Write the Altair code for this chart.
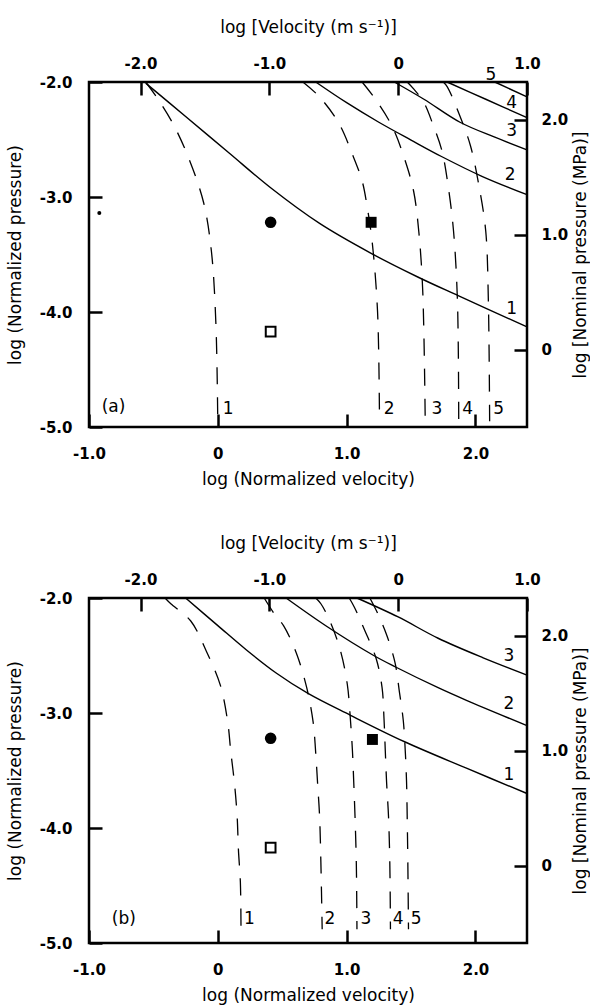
import altair as alt
import pandas as pd

# ---------------- axes ----------------
X_DOMAIN = [-1.0, 2.4]          # log (Normalized velocity)
Y_DOMAIN = [-5.0, -2.0]         # log (Normalized pressure)
VEL_OFFSET = 1.4                # log normalized velocity - log velocity
MPA_OFFSET = 4.33               # log nominal pressure - log normalized pressure
X_TICKS = [-1.0, 0.0, 1.0, 2.0]
Y_TICKS = [-2.0, -3.0, -4.0, -5.0]
VEL_TICKS = [-2.0, -1.0, 0.0, 1.0]
MPA_TICKS = [0.0, 1.0, 2.0]

# ---------------- panel (a) ----------------
A_S1_X = [-0.56, -0.25, 0.09, 0.41, 0.79, 1.19, 1.56, 1.87, 2.40]
A_S1_Y = [-2.01, -2.30, -2.62, -2.92, -3.23, -3.49, -3.70, -3.86, -4.13]
A_S2_X = [0.76, 1.0, 1.25, 1.50, 1.74, 2.05, 2.40]
A_S2_Y = [-2.0, -2.18, -2.35, -2.505, -2.65, -2.82, -2.98]
A_S3_X = [1.37, 1.60, 1.88, 2.15, 2.40]
A_S3_Y = [-2.0, -2.15, -2.35, -2.48, -2.59]
A_S4_X = [1.78, 2.08, 2.40]
A_S4_Y = [-2.0, -2.15, -2.31]
A_S5_X = [2.15, 2.40]
A_S5_Y = [-2.0, -2.13]

A_D1_X = [-0.56, -0.47, -0.34, -0.22, -0.11, -0.05, -0.015, 0.0]
A_D1_Y = [-2.0, -2.14, -2.38, -2.68, -3.05, -3.47, -4.10, -5.0]
A_D2_X = [0.66, 0.79, 0.94, 1.045, 1.12, 1.16, 1.20, 1.24, 1.255]
A_D2_Y = [-2.0, -2.13, -2.36, -2.63, -2.86, -3.09, -3.41, -4.0, -4.95]
A_D3_X = [1.12, 1.23, 1.355, 1.45, 1.52, 1.56, 1.59, 1.61]
A_D3_Y = [-2.0, -2.16, -2.39, -2.67, -2.95, -3.30, -3.80, -4.95]
A_D4_X = [1.47, 1.52, 1.60, 1.67, 1.74, 1.79, 1.83, 1.86, 1.87]
A_D4_Y = [-2.0, -2.06, -2.18, -2.37, -2.60, -2.92, -3.30, -3.90, -4.95]
A_D5_X = [1.75, 1.78, 1.87, 1.96, 2.03, 2.08, 2.10, 2.11]
A_D5_Y = [-2.0, -2.04, -2.27, -2.55, -2.92, -3.30, -3.90, -4.95]

A_RLAB_TEXT = ["1", "2", "3", "4", "5"]
A_RLAB_X = [2.28, 2.27, 2.28, 2.28, 2.12]
A_RLAB_Y = [-3.97, -2.81, -2.43, -2.18, -1.94]
A_BLAB_TEXT = ["1", "2", "3", "4", "5"]
A_BLAB_X = [0.08, 1.33, 1.70, 1.94, 2.18]
A_BLAB_Y = [-4.84, -4.84, -4.84, -4.84, -4.84]
A_TAG = "(a)"
A_TAG_X = [-0.81]
A_TAG_Y = [-4.83]

A_PT_KIND = ["circle", "fsquare", "osquare", "speck"]
A_PT_X = [0.41, 1.19, 0.41, -0.92]
A_PT_Y = [-3.22, -3.22, -4.17, -3.14]

# ---------------- panel (b) ----------------
B_S1_X = [-0.25, 0.0, 0.22, 0.45, 0.70, 1.03, 1.45, 1.93, 2.40]
B_S1_Y = [-2.0, -2.24, -2.45, -2.65, -2.83, -3.02, -3.25, -3.48, -3.70]
B_S2_X = [0.53, 0.85, 1.21, 1.38, 1.71, 1.93, 2.40]
B_S2_Y = [-2.0, -2.25, -2.50, -2.60, -2.78, -2.89, -3.11]
B_S3_X = [1.08, 1.40, 1.71, 2.06, 2.40]
B_S3_Y = [-2.0, -2.165, -2.35, -2.52, -2.67]

B_D1_X = [-0.41, -0.365, -0.21, -0.09, 0.02, 0.077, 0.10, 0.13, 0.15, 0.16, 0.175, 0.18]
B_D1_Y = [-2.0, -2.05, -2.20, -2.46, -2.76, -3.08, -3.33, -3.62, -3.90, -4.19, -4.47, -4.88]
B_D2_X = [0.36, 0.44, 0.51, 0.61, 0.69, 0.74, 0.76, 0.775, 0.79, 0.80, 0.81]
B_D2_Y = [-2.0, -2.14, -2.24, -2.48, -2.78, -3.08, -3.35, -3.62, -3.90, -4.30, -4.88]
B_D3_X = [0.76, 0.80, 0.87, 0.95, 1.005, 1.03, 1.045, 1.055, 1.065, 1.075, 1.08]
B_D3_Y = [-2.0, -2.05, -2.20, -2.45, -2.75, -3.07, -3.33, -3.60, -3.90, -4.30, -4.88]
B_D4_X = [1.02, 1.06, 1.14, 1.23, 1.275, 1.29, 1.30, 1.31, 1.325, 1.335, 1.34]
B_D4_Y = [-2.0, -2.08, -2.28, -2.53, -2.78, -3.05, -3.33, -3.60, -3.90, -4.30, -4.88]
B_D5_X = [1.18, 1.235, 1.31, 1.375, 1.41, 1.44, 1.455, 1.465, 1.47, 1.475, 1.48]
B_D5_Y = [-2.0, -2.12, -2.32, -2.56, -2.82, -3.07, -3.33, -3.60, -3.90, -4.30, -4.88]

B_RLAB_TEXT = ["1", "2", "3"]
B_RLAB_X = [2.26, 2.26, 2.26]
B_RLAB_Y = [-3.54, -2.92, -2.50]
B_BLAB_TEXT = ["1", "2", "3", "4", "5"]
B_BLAB_X = [0.245, 0.87, 1.15, 1.40, 1.54]
B_BLAB_Y = [-4.79, -4.79, -4.79, -4.79, -4.79]
B_TAG = "(b)"
B_TAG_X = [-0.73]
B_TAG_Y = [-4.79]

B_PT_KIND = ["circle", "fsquare", "osquare"]
B_PT_X = [0.41, 1.20, 0.41]
B_PT_Y = [-3.22, -3.23, -4.17]

# ---------------- styling ----------------
FONT = "DejaVu Sans"
LABEL_EXPR = ("datum.value == 0 ? '0' : (datum.value < 0 ? '-' + format(-datum.value, '.1f')"
              " : format(datum.value, '.1f'))")
PANEL_W, PANEL_H = 438, 345
TICK_LEN = 13


def curves_df(curves):
    rows = []
    for name, (xs, ys) in curves.items():
        for i, (x, y) in enumerate(zip(xs, ys)):
            rows.append({"curve": name, "i": i, "x": x, "y": y})
    return pd.DataFrame(rows)


def sx():
    return alt.Scale(domain=X_DOMAIN, nice=False, zero=False)


def sy():
    return alt.Scale(domain=Y_DOMAIN, nice=False, zero=False)


def axis(orient, values, title, label_pad, title_pad, **kw):
    return alt.Axis(orient=orient, values=values, title=title, labelExpr=LABEL_EXPR,
                    labelFont=FONT, labelFontSize=15, labelFontWeight="bold",
                    labelPadding=label_pad, titleFont=FONT, titleFontSize=17,
                    titleFontWeight="normal", titlePadding=title_pad,
                    offset=-TICK_LEN, tickSize=TICK_LEN, tickWidth=2.5, ticks=True,
                    domain=False, grid=False, labelFlush=False, labelOverlap=False, **kw)


def panel(solids, dashes, rlab, blab, tag, pts):
    layers = []
    # bottom / left axes
    ax_df = pd.DataFrame({"x": X_TICKS, "y": Y_TICKS})
    layers.append(alt.Chart(ax_df).mark_point(opacity=0).encode(
        x=alt.X("x:Q", scale=sx(), axis=axis("bottom", X_TICKS, "log (Normalized velocity)", 19, 10)),
        y=alt.Y("y:Q", scale=sy(), axis=axis("left", Y_TICKS, "log (Normalized pressure)", 17, 15)),
    ))
    # top axis (velocity)
    vdom = [X_DOMAIN[0] - VEL_OFFSET, X_DOMAIN[1] - VEL_OFFSET]
    layers.append(alt.Chart(pd.DataFrame({"v": VEL_TICKS})).mark_point(opacity=0).encode(
        x=alt.X("v:Q", scale=alt.Scale(domain=vdom, nice=False, zero=False),
                axis=axis("top", VEL_TICKS, "log [Velocity (m s\u207b\u00b9)]", 11, 20)),
    ))
    # right axis (nominal pressure)
    pdom = [Y_DOMAIN[0] + MPA_OFFSET, Y_DOMAIN[1] + MPA_OFFSET]
    layers.append(alt.Chart(pd.DataFrame({"p": MPA_TICKS})).mark_point(opacity=0).encode(
        y=alt.Y("p:Q", scale=alt.Scale(domain=pdom, nice=False, zero=False),
                axis=axis("right", MPA_TICKS, "log [Nominal pressure (MPa)]", 14, 5,
                          titleAngle=270, titleBaseline="top")),
    ))
    # solid curves
    layers.append(alt.Chart(curves_df(solids)).mark_line(
        color="black", strokeWidth=1.4, interpolate="catmull-rom").encode(
        x=alt.X("x:Q", scale=sx(), axis=None), y=alt.Y("y:Q", scale=sy(), axis=None),
        detail="curve:N", order="i:Q"))
    # dashed curves
    layers.append(alt.Chart(curves_df(dashes)).mark_line(
        color="black", strokeWidth=1.3, strokeDash=[17, 13], interpolate="catmull-rom").encode(
        x=alt.X("x:Q", scale=sx(), axis=None), y=alt.Y("y:Q", scale=sy(), axis=None),
        detail="curve:N", order="i:Q"))
    # labels
    for (texts, xs, ys) in (rlab, blab):
        df = pd.DataFrame({"t": texts, "x": xs, "y": ys})
        layers.append(alt.Chart(df).mark_text(font=FONT, fontSize=17, color="black").encode(
            x=alt.X("x:Q", scale=sx(), axis=None), y=alt.Y("y:Q", scale=sy(), axis=None),
            text="t:N"))
    tdf = pd.DataFrame({"t": [tag[0]], "x": tag[1], "y": tag[2]})
    layers.append(alt.Chart(tdf).mark_text(font=FONT, fontSize=17, color="black").encode(
        x=alt.X("x:Q", scale=sx(), axis=None), y=alt.Y("y:Q", scale=sy(), axis=None),
        text="t:N"))
    # points
    pdf = pd.DataFrame({"kind": pts[0], "x": pts[1], "y": pts[2]})
    styles = {
        "circle": dict(shape="circle", size=135, filled=True, color="black"),
        "fsquare": dict(shape="square", size=120, filled=True, color="black"),
        "osquare": dict(shape="square", size=95, filled=False, color="black", strokeWidth=2),
        "speck": dict(shape="circle", size=16, filled=True, color="black"),
    }
    for kind, st in styles.items():
        if kind not in pts[0]:
            continue
        layers.append(alt.Chart(pdf).transform_filter(alt.datum.kind == kind).mark_point(
            opacity=1, **st).encode(
            x=alt.X("x:Q", scale=sx(), axis=None), y=alt.Y("y:Q", scale=sy(), axis=None)))
    return alt.layer(*layers).resolve_scale(x="independent", y="independent").properties(
        width=PANEL_W, height=PANEL_H)


panel_a = panel(
    {"s1": (A_S1_X, A_S1_Y), "s2": (A_S2_X, A_S2_Y), "s3": (A_S3_X, A_S3_Y),
     "s4": (A_S4_X, A_S4_Y), "s5": (A_S5_X, A_S5_Y)},
    {"d1": (A_D1_X, A_D1_Y), "d2": (A_D2_X, A_D2_Y), "d3": (A_D3_X, A_D3_Y),
     "d4": (A_D4_X, A_D4_Y), "d5": (A_D5_X, A_D5_Y)},
    (A_RLAB_TEXT, A_RLAB_X, A_RLAB_Y), (A_BLAB_TEXT, A_BLAB_X, A_BLAB_Y),
    (A_TAG, A_TAG_X, A_TAG_Y), (A_PT_KIND, A_PT_X, A_PT_Y))

panel_b = panel(
    {"s1": (B_S1_X, B_S1_Y), "s2": (B_S2_X, B_S2_Y), "s3": (B_S3_X, B_S3_Y)},
    {"d1": (B_D1_X, B_D1_Y), "d2": (B_D2_X, B_D2_Y), "d3": (B_D3_X, B_D3_Y),
     "d4": (B_D4_X, B_D4_Y), "d5": (B_D5_X, B_D5_Y)},
    (B_RLAB_TEXT, B_RLAB_X, B_RLAB_Y), (B_BLAB_TEXT, B_BLAB_X, B_BLAB_Y),
    (B_TAG, B_TAG_X, B_TAG_Y), (B_PT_KIND, B_PT_X, B_PT_Y))

chart = alt.vconcat(panel_a, panel_b, spacing=43).properties(
    padding={"left": 4, "right": 0, "top": 16, "bottom": 4},
    background="white",
).configure_view(stroke="black", strokeWidth=2.5).configure_axis(
    labelColor="black", titleColor="black", tickColor="black")

chart.save("out.html", embed_options={"renderer": "svg", "actions": False})
